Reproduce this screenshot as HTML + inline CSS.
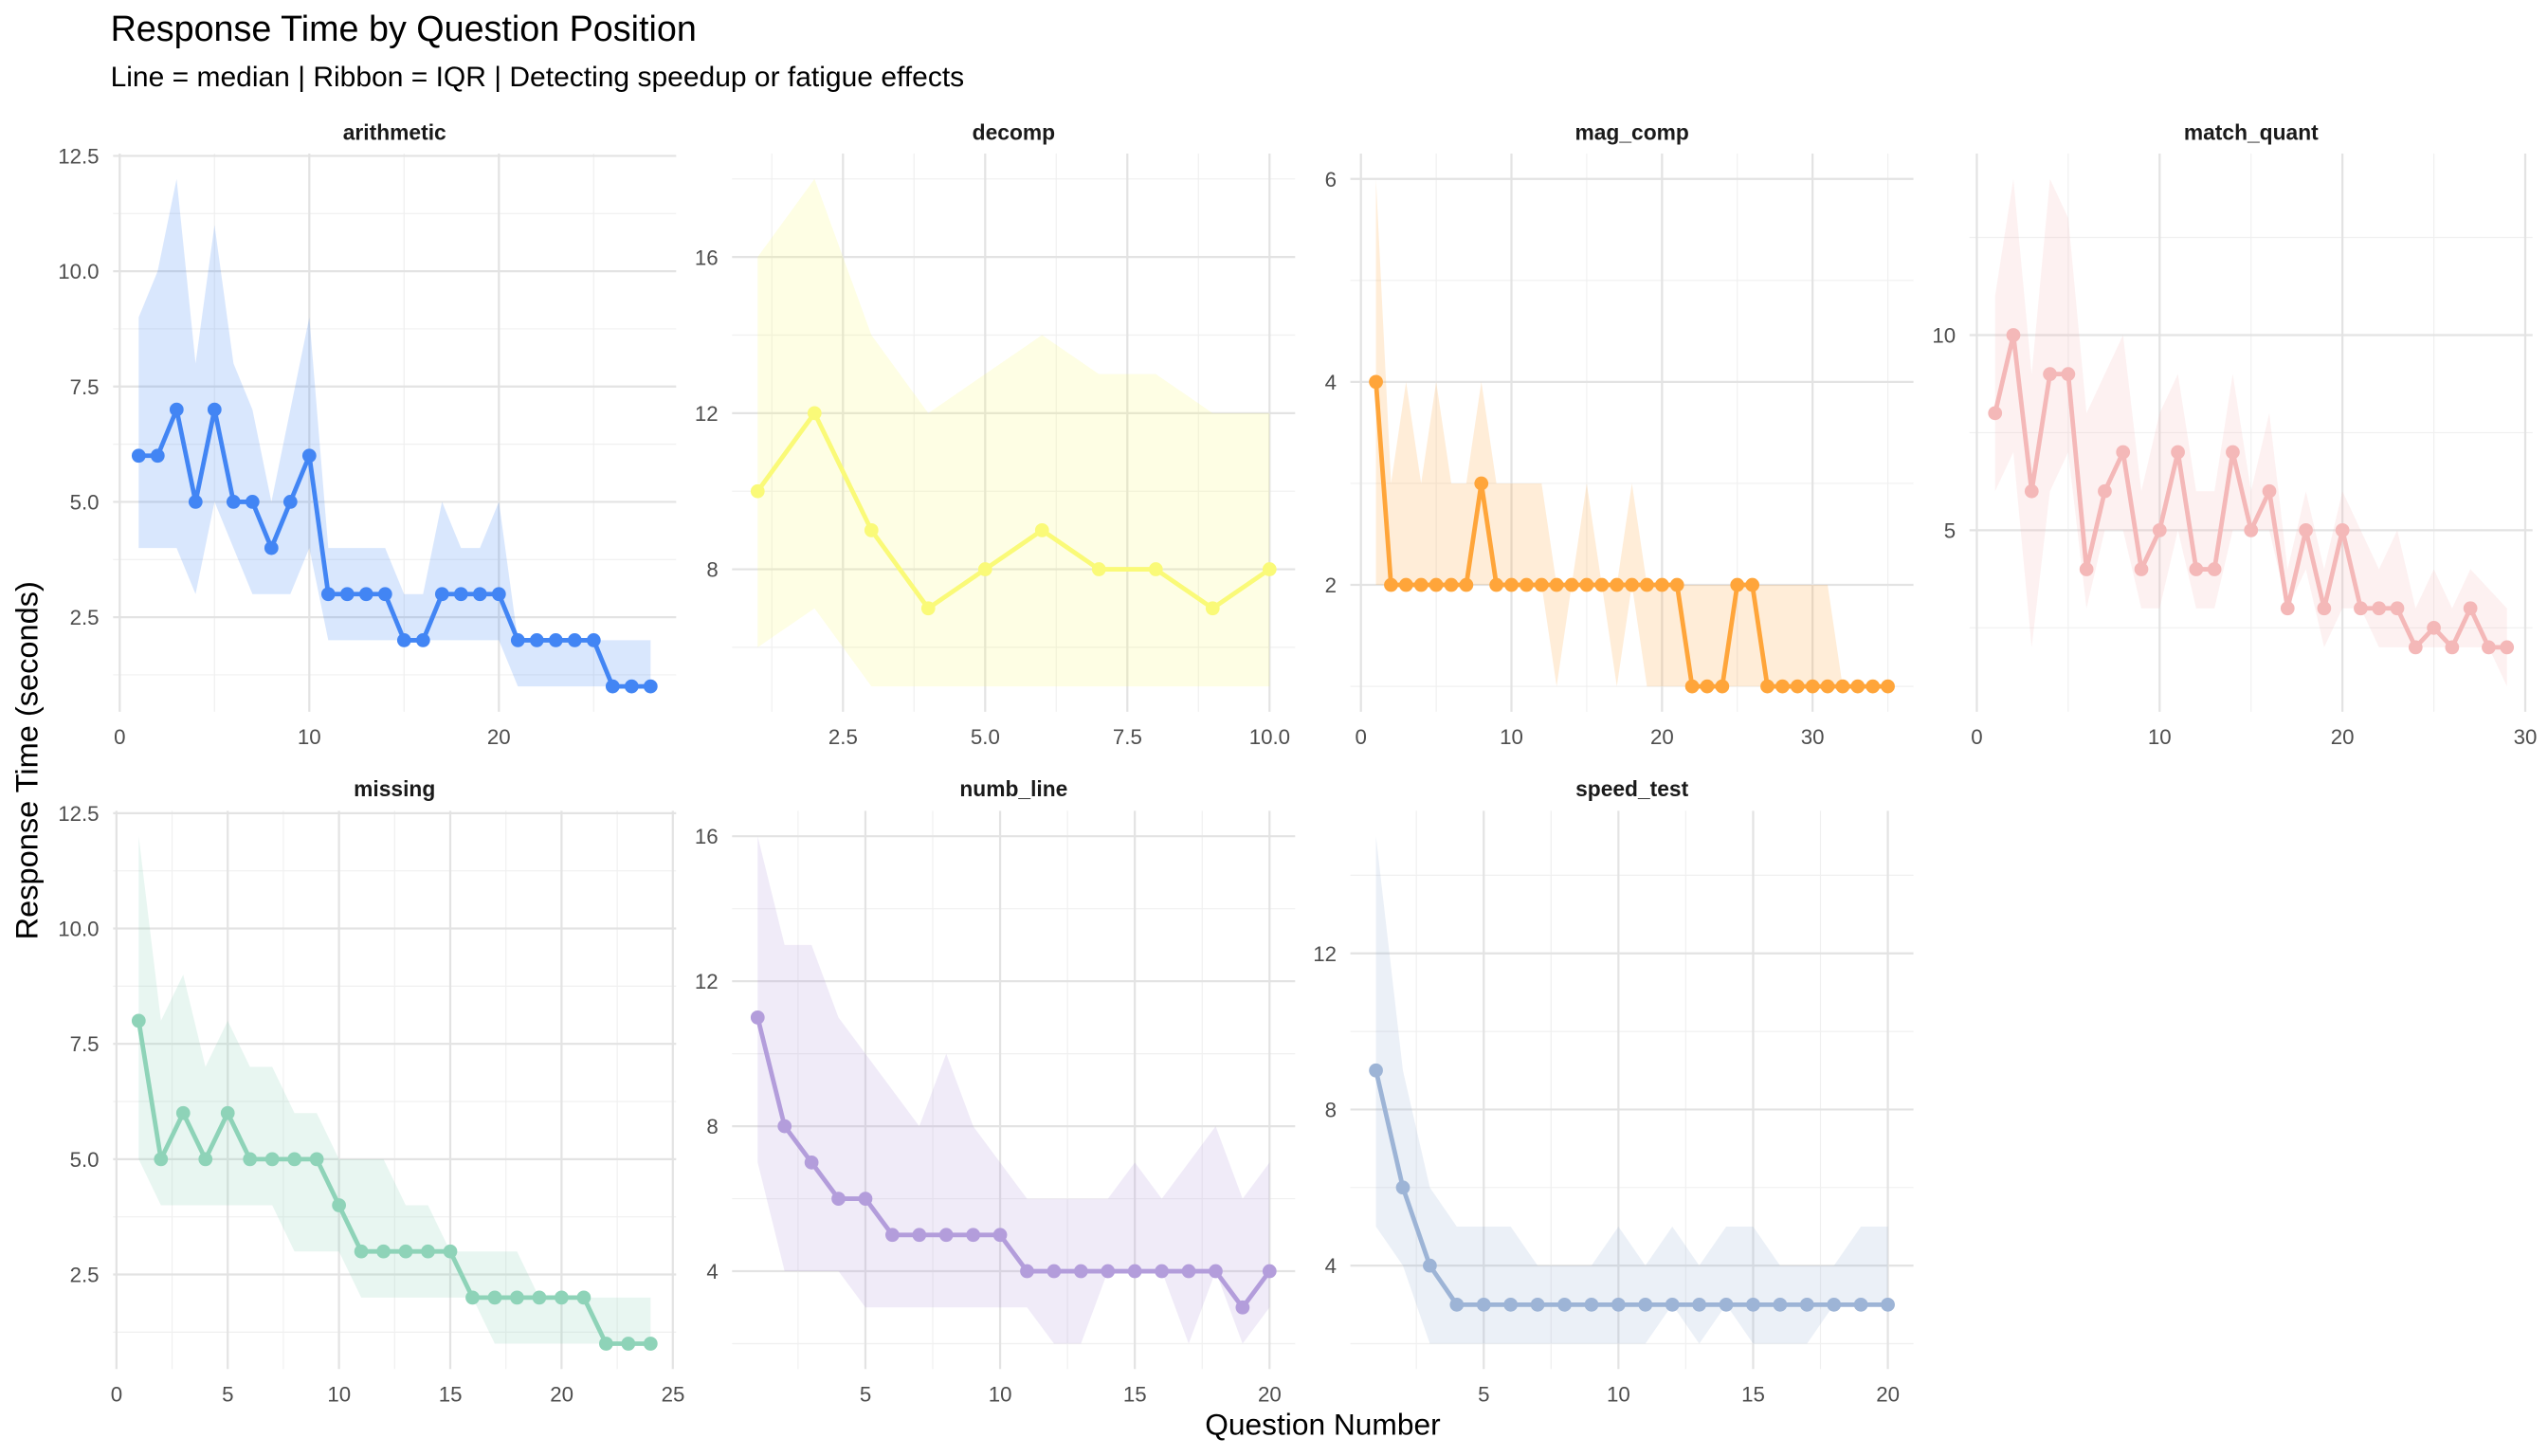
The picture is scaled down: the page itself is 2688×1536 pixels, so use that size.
<!DOCTYPE html>
<html><head><meta charset="utf-8"><style>
html,body{margin:0;padding:0;background:#fff;}
svg{display:block;}
text{font-family:"Liberation Sans",Arial,sans-serif;}
.t{font-size:13px;fill:#4d4d4d;}
.s{font-size:13.3px;font-weight:bold;fill:#1a1a1a;text-anchor:middle;}
.r{text-anchor:end;}
.m{text-anchor:middle;}
</style></head><body>
<svg id="sv" width="2688" height="1536" viewBox="0 0 1568 896" xmlns="http://www.w3.org/2000/svg">
<g id="grid"></g>
<g id="data"></g>
<text x="68" y="25" style="font-size:22px;fill:#000">Response Time by Question Position</text>
<text x="68" y="53" style="font-size:17.5px;fill:#000">Line = median | Ribbon = IQR | Detecting speedup or fatigue effects</text>
<text x="814" y="883" class="m" style="font-size:18.5px;fill:#000">Question Number</text>
<text transform="translate(23,468) rotate(-90)" class="m" style="font-size:19px;fill:#000">Response Time (seconds)</text>
<text class="s" x="242.8" y="86">arithmetic</text>
<text class="s" x="623.8" y="86">decomp</text>
<text class="s" x="1004.3" y="86">mag_comp</text>
<text class="s" x="1385.3" y="86">match_quant</text>
<text class="s" x="242.8" y="490">missing</text>
<text class="s" x="623.8" y="490">numb_line</text>
<text class="s" x="1004.3" y="490">speed_test</text>
<!-- P1 -->
<g class="t r"><text x="61" y="384.5">2.5</text><text x="61" y="313.5">5.0</text><text x="61" y="242.6">7.5</text><text x="61" y="171.6">10.0</text><text x="61" y="100.6">12.5</text></g>
<g class="t m"><text x="73.7" y="458">0</text><text x="190.3" y="458">10</text><text x="307" y="458">20</text></g>
<!-- P2 -->
<g class="t r"><text x="442" y="355">8</text><text x="442" y="258.9">12</text><text x="442" y="162.9">16</text></g>
<g class="t m"><text x="518.8" y="458">2.5</text><text x="606.3" y="458">5.0</text><text x="693.8" y="458">7.5</text><text x="781.3" y="458">10.0</text></g>
<!-- P3 -->
<g class="t r"><text x="822.5" y="364.6">2</text><text x="822.5" y="239.7">4</text><text x="822.5" y="114.8">6</text></g>
<g class="t m"><text x="837.5" y="458">0</text><text x="930.1" y="458">10</text><text x="1022.8" y="458">20</text><text x="1115.4" y="458">30</text></g>
<!-- P4 -->
<g class="t r"><text x="1203.5" y="331">5</text><text x="1203.5" y="210.9">10</text></g>
<g class="t m"><text x="1216.5" y="458">0</text><text x="1329" y="458">10</text><text x="1441.5" y="458">20</text><text x="1554" y="458">30</text></g>
<!-- P5 -->
<g class="t r"><text x="61" y="789">2.5</text><text x="61" y="718">5.0</text><text x="61" y="647">7.5</text><text x="61" y="576.1">10.0</text><text x="61" y="505.1">12.5</text></g>
<g class="t m"><text x="71.7" y="862.5">0</text><text x="140.2" y="862.5">5</text><text x="208.7" y="862.5">10</text><text x="277.2" y="862.5">15</text><text x="345.7" y="862.5">20</text><text x="414.2" y="862.5">25</text></g>
<!-- P6 -->
<g class="t r"><text x="442" y="787">4</text><text x="442" y="697.7">8</text><text x="442" y="608.5">12</text><text x="442" y="519.2">16</text></g>
<g class="t m"><text x="532.6" y="862.5">5</text><text x="615.5" y="862.5">10</text><text x="698.4" y="862.5">15</text><text x="781.3" y="862.5">20</text></g>
<!-- P7 -->
<g class="t r"><text x="822.5" y="783.5">4</text><text x="822.5" y="687.5">8</text><text x="822.5" y="591.4">12</text></g>
<g class="t m"><text x="913.1" y="862.5">5</text><text x="996" y="862.5">10</text><text x="1078.9" y="862.5">15</text><text x="1161.8" y="862.5">20</text></g>
</svg>
<script>
var W=346.5,H=343.5;
var P=[
{L:69.6,T:94.5,x:[-0.35,29.35],y:[0.45,12.55],xM:[0,10,20],xm:[5,15,25],yM:[2.5,5,7.5,10,12.5],ym:[1.25,3.75,6.25,8.75,11.25],c:"#4285F4",
 md:[6,6,7,5,7,5,5,4,5,6,3,3,3,3,2,2,3,3,3,3,2,2,2,2,2,1,1,1],
 hi:[9,10,12,8,11,8,7,5,7,9,4,4,4,4,3,3,5,4,4,5,2,2,2,2,2,2,2,2],
 lo:[4,4,4,3,5,4,3,3,3,4,2,2,2,2,2,2,2,2,2,2,1,1,1,1,1,1,1,1]},
{L:450.5,T:94.5,x:[0.55,10.45],y:[4.35,18.65],xM:[2.5,5,7.5,10],xm:[1.25,3.75,6.25,8.75],yM:[8,12,16],ym:[6,10,14,18],c:"#FAFA78",
 md:[10,12,9,7,8,9,8,8,7,8],hi:[16,18,14,12,13,14,13,13,12,12],lo:[6,7,5,5,5,5,5,5,5,5]},
{L:831,T:94.5,x:[-0.7,36.7],y:[0.75,6.25],xM:[0,10,20,30],xm:[5,15,25,35],yM:[2,4,6],ym:[1,3,5],c:"#FFA53A",
 md:[4,2,2,2,2,2,2,3,2,2,2,2,2,2,2,2,2,2,2,2,2,1,1,1,2,2,1,1,1,1,1,1,1,1,1],
 hi:[6,3,4,3,4,3,3,4,3,3,3,3,2,2,3,2,2,3,2,2,2,2,2,2,2,2,2,2,2,2,2,1,1,1,1],
 lo:[2,2,2,2,2,2,2,2,2,2,2,2,1,2,2,2,1,2,1,1,1,1,1,1,1,1,1,1,1,1,1,1,1,1,1]},
{L:1212,T:94.5,x:[-0.4,30.4],y:[0.35,14.65],xM:[0,10,20,30],xm:[5,15,25],yM:[5,10],ym:[2.5,7.5,12.5],c:"#F4B8B8",
 md:[8,10,6,9,9,4,6,7,4,5,7,4,4,7,5,6,3,5,3,5,3,3,3,2,2.5,2,3,2,2],
 hi:[11,14,9,14,13,8,9,10,6,8,9,6,6,9,6,8,4,6,4,6,5,4,5,3,4,3,4,3.5,3],
 lo:[6,7,2,6,7,3,5,5,3,3,5,3,3,5,5,5,3,4,2,3,3,2,2,2,2,2,2,2,1]},
{L:69.6,T:499,x:[-0.15,25.15],y:[0.45,12.55],xM:[0,5,10,15,20,25],xm:[2.5,7.5,12.5,17.5,22.5],yM:[2.5,5,7.5,10,12.5],ym:[1.25,3.75,6.25,8.75,11.25],c:"#8ED3B8",
 md:[8,5,6,5,6,5,5,5,5,4,3,3,3,3,3,2,2,2,2,2,2,1,1,1],
 hi:[12,8,9,7,8,7,7,6,6,5,5,5,4,4,3,3,3,3,2,2,2,2,2,2],
 lo:[5,4,4,4,4,4,4,3,3,3,2,2,2,2,2,2,1,1,1,1,1,1,1,1]},
{L:450.5,T:499,x:[0.05,20.95],y:[1.3,16.7],xM:[5,10,15,20],xm:[2.5,7.5,12.5,17.5],yM:[4,8,12,16],ym:[2,6,10,14],c:"#B39DDB",
 md:[11,8,7,6,6,5,5,5,5,5,4,4,4,4,4,4,4,4,3,4],
 hi:[16,13,13,11,10,9,8,10,8,7,6,6,6,6,7,6,7,8,6,7],
 lo:[7,4,4,4,3,3,3,3,3,3,3,2,2,4,4,4,2,4,2,3]},
{L:831,T:499,x:[0.05,20.95],y:[1.35,15.65],xM:[5,10,15,20],xm:[2.5,7.5,12.5,17.5],yM:[4,8,12],ym:[2,6,10,14],c:"#9DB4D6",
 md:[9,6,4,3,3,3,3,3,3,3,3,3,3,3,3,3,3,3,3,3],
 hi:[15,9,6,5,5,5,4,4,4,5,4,5,4,5,5,4,4,4,5,5],
 lo:[5,4,2,2,2,2,2,2,2,2,2,3,2,3,2,2,2,3,3,3]}
];
var g="",d="";
P.forEach(function(p){
 var X=function(v){return p.L+(v-p.x[0])/(p.x[1]-p.x[0])*W;};
 var Y=function(v){return p.T+H-(v-p.y[0])/(p.y[1]-p.y[0])*H;};
 p.ym.forEach(function(v){if(v>p.y[0]&&v<p.y[1])g+='<line x1="'+p.L+'" x2="'+(p.L+W)+'" y1="'+Y(v)+'" y2="'+Y(v)+'" stroke="#f0f0f0" stroke-width="0.7"/>';});
 p.xm.forEach(function(v){if(v>p.x[0]&&v<p.x[1])g+='<line y1="'+p.T+'" y2="'+(p.T+H)+'" x1="'+X(v)+'" x2="'+X(v)+'" stroke="#f0f0f0" stroke-width="0.7"/>';});
 p.yM.forEach(function(v){g+='<line x1="'+p.L+'" x2="'+(p.L+W)+'" y1="'+Y(v)+'" y2="'+Y(v)+'" stroke="#e3e3e3" stroke-width="1.3"/>';});
 p.xM.forEach(function(v){g+='<line y1="'+p.T+'" y2="'+(p.T+H)+'" x1="'+X(v)+'" x2="'+X(v)+'" stroke="#e3e3e3" stroke-width="1.3"/>';});
 var n=p.md.length,pts=[],up=[],dn=[];
 for(var i=0;i<n;i++){up.push(X(i+1)+','+Y(p.hi[i]));pts.push(X(i+1)+','+Y(p.md[i]));}
 for(var i=n-1;i>=0;i--)dn.push(X(i+1)+','+Y(p.lo[i]));
 d+='<polygon points="'+up.concat(dn).join(' ')+'" fill="'+p.c+'" fill-opacity="0.2"/>';
 d+='<polyline points="'+pts.join(' ')+'" fill="none" stroke="'+p.c+'" stroke-width="2.8" stroke-linejoin="round"/>';
 for(var i=0;i<n;i++)d+='<circle cx="'+X(i+1)+'" cy="'+Y(p.md[i])+'" r="4.3" fill="'+p.c+'"/>';
});
document.getElementById("grid").innerHTML=g;
document.getElementById("data").innerHTML=d;
</script>
</body></html>
